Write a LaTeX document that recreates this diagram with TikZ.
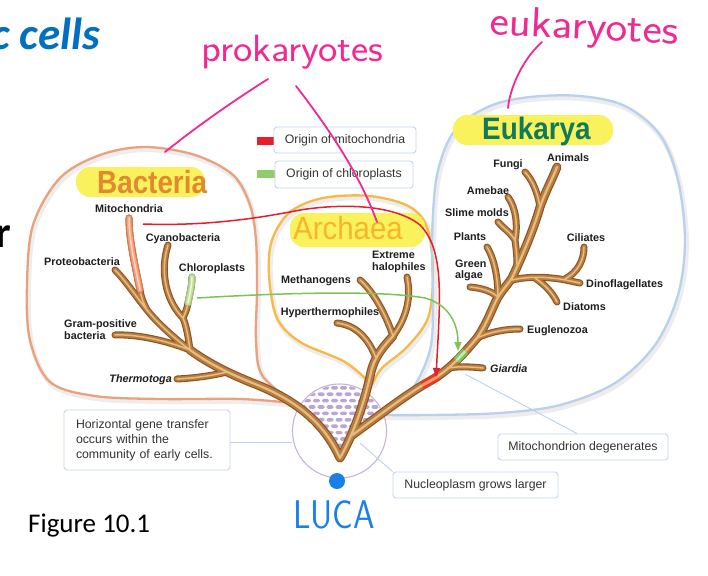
\documentclass[tikz,border=0pt]{standalone}
\usepackage{fontspec}
\setmainfont{Liberation Sans}
\newfontfamily\calib{Carlito}
\usetikzlibrary{arrows.meta}
\definecolor{tubeD}{HTML}{8A5526}
\definecolor{tubeM}{HTML}{B97D40}
\definecolor{tubeL}{HTML}{E6BD80}
\definecolor{mitoD}{HTML}{D9764F}
\definecolor{mitoM}{HTML}{F2A27E}
\definecolor{mitoL}{HTML}{FCD6BE}
\definecolor{chlD}{HTML}{9CC47A}
\definecolor{chlM}{HTML}{C4DE9E}
\definecolor{chlL}{HTML}{EEF6DE}
\definecolor{bacEdge}{HTML}{E9A27E}
\definecolor{arcEdge}{HTML}{F7BA45}
\definecolor{eukEdge}{HTML}{B9D1EE}
\definecolor{hilite}{HTML}{F9F25C}
\definecolor{bacTxt}{HTML}{E2892F}
\definecolor{arcTxt}{HTML}{F7B52C}
\definecolor{eukTxt}{HTML}{0E7B5C}
\definecolor{boxEdge}{HTML}{C3D5EC}
\definecolor{connC}{HTML}{BCD0EA}
\definecolor{cellEdge}{HTML}{C7B3D9}
\definecolor{brickC}{HTML}{BBA5D3}
\definecolor{redA}{HTML}{E61E2A}
\definecolor{greenA}{HTML}{7DC355}
\definecolor{pinkH}{HTML}{F02A92}
\definecolor{blueH}{HTML}{1B7FEA}
\definecolor{titleB}{HTML}{0070C0}
\definecolor{lblTxt}{HTML}{1E1E1E}
\definecolor{boxTxt}{HTML}{333333}
\definecolor{shadowC}{HTML}{EDEDED}

\newcommand\TrunkPaths{
 (340,458) .. controls (325,425) and (300,403) .. (260,386) .. controls (240,378) and (215,368) .. (190,350)
 (340,458) .. controls (352,437) and (364,405) .. (371,372) .. controls (375,355) and (385,345) .. (393,336)
 (351,436) .. controls (380,415) and (405,395) .. (430,381) .. controls (450,370) and (465,352) .. (477,338)
   .. controls (488,322) and (492,308) .. (498,297) .. controls (504,288) and (508,284) .. (512,278)
   .. controls (525,250) and (535,225) .. (540,207) .. controls (546,190) and (552,180) .. (557,167)
}
\newcommand\BranchPaths{
 (227,372) .. controls (210,376) and (195,378) .. (177,379)
 (190,350) .. controls (165,340) and (135,334) .. (115,335)
 (190,350) .. controls (170,335) and (155,320) .. (147,310)
 (147,310) .. controls (135,295) and (125,280) .. (115,270)
 (147,310) .. controls (143,302) and (141,297) .. (140,290)
 (140,290) .. controls (135,265) and (129,240) .. (129,218)
 (190,350) .. controls (188,335) and (186,325) .. (183,318)
 (183,318) .. controls (165,300) and (160,270) .. (168,245)
 (183,318) .. controls (186,312) and (187,308) .. (188,303)
 (188,303) .. controls (190,293) and (192,285) .. (192,277)
 (376,358) .. controls (368,337) and (355,325) .. (337,323)
 (393,336) .. controls (385,312) and (372,290) .. (360,280)
 (393,336) .. controls (405,320) and (412,300) .. (407,277)
 (448,368) .. controls (460,366) and (472,367) .. (483,368)
 (477,338) .. controls (490,332) and (505,329) .. (520,329)
 (498,297) .. controls (490,290) and (480,288) .. (470,287)
 (498,297) .. controls (498,280) and (495,260) .. (487,247)
 (512,280) .. controls (530,276) and (545,277) .. (560,279) .. controls (567,280) and (574,282) .. (580,283)
 (565,279) .. controls (578,272) and (584,260) .. (584,247)
 (535,278) .. controls (545,285) and (552,292) .. (557,302)
 (517,265) .. controls (517,255) and (516,248) .. (515,240)
 (515,240) .. controls (518,225) and (516,208) .. (508,197)
 (515,240) .. controls (510,232) and (503,228) .. (498,222)
 (540,207) .. controls (537,190) and (532,180) .. (525,172)
}
\newcommand\MitoTop{(140,290) .. controls (135,265) and (129,240) .. (129,218)}
\newcommand\ChloroTop{(188,303) .. controls (190,293) and (192,285) .. (192,277)}
\newcommand\BacBlob{plot[smooth, tension=0.55] coordinates {(293,403) (240,399) (160,399) (95,396) (50,382) (30,340) (27,285) (33,225) (60,178) (100,155) (145,147) (195,155) (233,175) (250,205) (256,240) (257,290) (256,340) (262,375) (293,403)}}
\newcommand\ArcBlob{plot[smooth, tension=0.55] coordinates {(372,385) (345,362) (300,342) (277,318) (269,275) (272,240) (290,212) (323,198) (370,196) (410,207) (428,230) (433,275) (428,318) (407,347) (382,368) (372,385)}}
\newcommand\EukBlob{plot[smooth, tension=0.55] coordinates {(378,415) (410,392) (430,350) (433,300) (432,240) (437,175) (455,130) (490,106) (530,97) (580,96) (625,106) (660,135) (678,180) (685,240) (678,295) (655,345) (615,383) (560,405) (500,413) (430,415) (378,415)}}

\begin{document}
\begin{tikzpicture}[x=1pt,y=-1pt,
  lbl/.style={font=\fontsize{10.8}{12}\selectfont\bfseries, text=lblTxt, inner sep=0pt},
  lblit/.style={lbl, font=\fontsize{10.8}{12}\selectfont\bfseries\itshape},
  note/.style={draw=boxEdge, line width=0.9pt, rounded corners=3pt, fill=white,
     font=\fontsize{12.3}{15}\selectfont, text=boxTxt, inner sep=0pt},
  conn/.style={draw=connC, line width=0.9pt},
  blob/.style={line width=2.3pt, line join=round},
  blobshadow/.style={draw=shadowC, line width=5pt, line join=round},
  pill/.style={fill=hilite, rounded corners=14pt},
  hand/.style={draw=pinkH, line width=1.8pt, line cap=round},
  tubecap/.style={line cap=round, line join=round}]
\useasboundingbox (0,0) rectangle (708,575);
\fill[white] (0,0) rectangle (708,575);

% slide text
\node[anchor=base west, inner sep=0pt, text=titleB, font=\calib\bfseries\itshape\fontsize{45}{45}\selectfont] (title) at (-9,50) {c cells};
\node[anchor=base east, inner sep=0pt, text=black, font=\calib\bfseries\fontsize{44}{44}\selectfont] (rchar) at (11,247) {r};
\node[anchor=base west, inner sep=0pt, text=black, font=\calib\fontsize{27}{27}\selectfont] (fig) at (28,532) {Figure 10.1};

% domain outlines (with soft shadow)
\begin{scope}[shift={(1.5,2.5)}]
  \draw[blobshadow] \BacBlob;
  \draw[blobshadow] \ArcBlob;
  \draw[blobshadow] \EukBlob;
\end{scope}
\draw[blob, bacEdge] \BacBlob;
\draw[blob, arcEdge] \ArcBlob;
\draw[blob, eukEdge] \EukBlob;

% domain titles
\fill[pill] (76,167) rectangle (205,197);
\node[anchor=base west, inner sep=0pt, text=bacTxt, xscale=0.87, font=\fontsize{32}{32}\selectfont\bfseries] (bact) at (97,193) {Bacteria};
\fill[pill] (290,213) rectangle (425,247);
\node[anchor=base west, inner sep=0pt, text=arcTxt, xscale=0.92, font=\fontsize{32}{32}\selectfont] (arch) at (293,239) {Archaea};
\fill[pill] (453,115) rectangle (613,145);
\node[anchor=base west, inner sep=0pt, text=eukTxt, xscale=0.9, font=\fontsize{31}{31}\selectfont\bfseries] (euk) at (482,139) {Eukarya};

% legend
\node[fill=redA, minimum width=18pt, minimum height=8pt, inner sep=0pt] (swR) at (266,140.5) {};
\node[note, minimum width=142pt, minimum height=26pt] (legR) at (345,140) {Origin of mitochondria};
\node[fill=greenA!85, minimum width=18pt, minimum height=8pt, inner sep=0pt] (swG) at (266,173.5) {};
\node[note, minimum width=138pt, minimum height=27pt] (legG) at (344,174.5) {Origin of chloroplasts};

% early cell community
\node[circle, draw=cellEdge, line width=1.1pt, minimum size=94pt, inner sep=0pt] (cell) at (339.5,431) {};
\begin{scope}
  \clip (339.5,431) circle[radius=46pt];
  \clip (268,380) -- (287,400) -- (309,416) -- (327,435) -- (340,455) -- (347,444) -- (351,436) -- (372,420) -- (392,406) -- (402,380) -- cycle;
  \foreach \r in {0,...,12} {
    \foreach \c in {0,...,14} {
      \pgfmathsetmacro\xx{286+\c*9+mod(\r,2)*4.5}
      \pgfmathsetmacro\yy{386+\r*6.4}
      \fill[brickC, rounded corners=1.5pt] (\xx,\yy) rectangle ++(7,3.6);
    }
  }
\end{scope}

% notes and their connectors
\node[note, text width=142pt, align=left, inner xsep=12pt, minimum height=60pt] (hgt) at (147,440)
  {Horizontal gene transfer\\occurs within the\\community of early cells.};
\node[note, minimum width=170pt, minimum height=26pt] (mdeg) at (583,447) {Mitochondrion degenerates};
\node[note, minimum width=165pt, minimum height=26pt] (nucl) at (475.5,485) {Nucleoplasm grows larger};
\coordinate (giaJ) at (465,374);
\coordinate (nucJ) at (360,443);
\draw[conn] (hgt.east |- 0,442) -- (cell.west |- 0,442);
\draw[conn] (giaJ) -- ([xshift=-6pt]mdeg.north);
\draw[conn] (nucJ) -- (nucl.north west);

% tree of life (tubes)
\draw[tubeD, line width=9, tubecap] \TrunkPaths;
\draw[tubeD, line width=7, tubecap] \BranchPaths;
\draw[tubeM, line width=6.6, tubecap] \TrunkPaths;
\draw[tubeM, line width=4.8, tubecap] \BranchPaths;
\draw[tubeL, line width=2.2, tubecap] \TrunkPaths;
\draw[tubeL, line width=1.5, tubecap] \BranchPaths;
% mitochondria and chloroplast lineages
\draw[mitoD, line width=7, tubecap] \MitoTop;
\draw[mitoM, line width=4.8, tubecap] \MitoTop;
\draw[mitoL, line width=1.5, tubecap] \MitoTop;
\draw[chlD, line width=7, tubecap] \ChloroTop;
\draw[chlM, line width=4.8, tubecap] \ChloroTop;
\draw[chlL, line width=1.5, tubecap] \ChloroTop;
% endosymbiosis marks on the eukaryote trunk
\draw[line width=8.4, draw=redA!75!orange] (422,385.5) -- (438,376.6);
\draw[line width=3, draw=redA!40!orange!60!white] (422,385.5) -- (438,376.6);
\draw[line width=7.4, draw=greenA] (456.5,360.6) -- (465.2,351.3);
\draw[line width=2.5, draw=greenA!40!white] (456.5,360.6) -- (465.2,351.3);

% endosymbiosis arrows
\coordinate (mitoOut) at (143,224);
\coordinate (mitoIn) at (436,377);
\coordinate (chlOut) at (197,298);
\coordinate (chlIn) at (458,351);
\draw[redA, line width=1.5pt, -{Triangle[length=9pt,width=7pt]}] (mitoOut) .. controls (200,226) and (250,220) .. (300,210) .. controls (345,203) and (395,205) .. (420,225) .. controls (445,250) and (440,300) .. (mitoIn);
\draw[greenA, line width=1.5pt, -{Triangle[length=9pt,width=7pt]}] (chlOut) .. controls (280,293) and (380,290) .. (425,298) .. controls (450,305) and (458,325) .. (chlIn);

% branch labels
\node[lbl, anchor=base] (lMito) at (129,212.5) {Mitochondria};
\node[lbl, anchor=base] (lCyano) at (183,241) {Cyanobacteria};
\node[lbl, anchor=base] (lProteo) at (82,265) {Proteobacteria};
\node[lbl, anchor=base] (lChloro) at (212,271) {Chloroplasts};
\node[lbl, anchor=base west] (lGram) at (64,327) {Gram-positive};
\node[lbl, anchor=base west] (lGram2) at (64,339) {bacteria};
\node[lblit, anchor=base east] (lThermo) at (172,382) {Thermotoga};
\node[lbl, anchor=base] (lMeth) at (316,283) {Methanogens};
\node[lbl, anchor=base west] (lExt) at (372,258) {Extreme};
\node[lbl, anchor=base west] (lHalo) at (372,270) {halophiles};
\node[lbl, anchor=base] (lHyper) at (330,315.5) {Hyperthermophiles};
\node[lbl, anchor=base] (lAnim) at (568,161) {Animals};
\node[lbl, anchor=base] (lFungi) at (508,167.5) {Fungi};
\node[lbl, anchor=base] (lAmeb) at (488,194) {Amebae};
\node[lbl, anchor=base] (lSlime) at (477,216) {Slime molds};
\node[lbl, anchor=base] (lPlant) at (470,240) {Plants};
\node[lbl, anchor=base] (lCil) at (586,241) {Ciliates};
\node[lbl, anchor=base west] (lGreen) at (455,267) {Green};
\node[lbl, anchor=base west] (lAlgae) at (455,278.5) {algae};
\node[lbl, anchor=base west] (lDino) at (586,287) {Dinoflagellates};
\node[lbl, anchor=base west] (lDiat) at (563,310) {Diatoms};
\node[lbl, anchor=base west] (lEugl) at (527,333) {Euglenozoa};
\node[lblit, anchor=base west] (lGiar) at (490,372) {Giardia};

% LUCA
\fill[blueH] (337,481) circle[radius=8pt];
\node[anchor=base, inner sep=0pt, text=blueH, xscale=0.86, font=\sffamily\fontsize{40}{40}\selectfont] (luca) at (334,528) {LUCA};

% handwritten notes
\node[anchor=base west, inner sep=0pt, text=pinkH, xscale=1.08, font=\sffamily\fontsize{38}{38}\selectfont] (prok) at (201,62) {prokaryotes};
\node[anchor=base west, inner sep=0pt, text=pinkH, rotate=-3, xscale=1.1, font=\sffamily\fontsize{42}{42}\selectfont] (euka) at (489,34) {eukaryotes};
\coordinate (prokA) at (268,79);
\coordinate (prokB) at (296,86);
\coordinate (bacTop) at (165,152);
\coordinate (arcTop) at (377,222);
\coordinate (eukaA) at (542,42);
\coordinate (eukTop) at (508,108);
\draw[hand] (prokA) .. controls (230,103) and (195,128) .. (bacTop);
\draw[hand] (prokB) .. controls (330,130) and (360,175) .. (arcTop);
\draw[hand] (eukaA) .. controls (522,60) and (510,88) .. (eukTop);
\end{tikzpicture}
\end{document}
